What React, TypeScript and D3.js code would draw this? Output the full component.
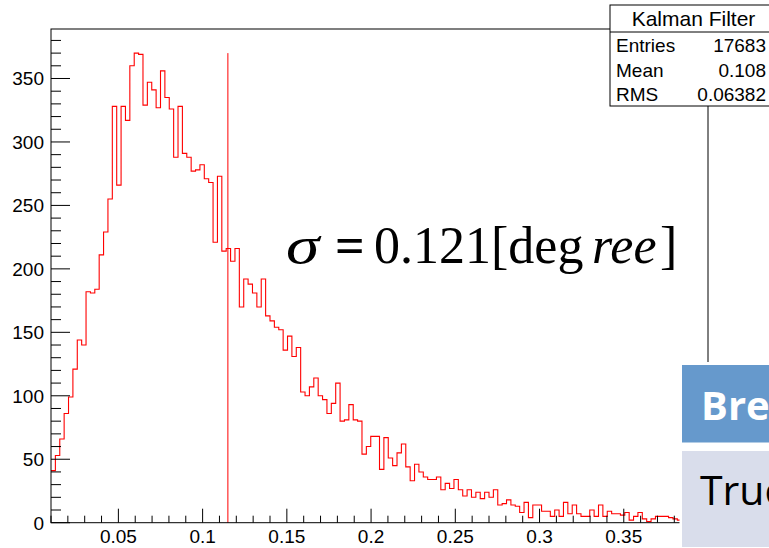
import React from 'react';
import * as d3 from 'd3';

// histogram "Kalman Filter": 150 bins from 0.01 to 0.4
const binRange = [0.01, 0.4];
const binCounts = [
  41, 53, 66, 86, 99, 121, 144, 140, 182, 181,
  184, 211, 229, 255, 328, 266, 328, 317, 360, 370,
  369, 329, 347, 341, 327, 356, 335, 326, 288, 328,
  291, 288, 277, 278, 282, 271, 268, 221, 273, 214,
  216, 206, 216, 170, 192, 188, 181, 170, 192, 163,
  159, 154, 152, 136, 147, 131, 138, 103, 100, 107,
  114, 100, 97, 86, 94, 110, 80, 81, 93, 81,
  80, 54, 60, 68, 68, 42, 67, 51, 45, 55,
  62, 44, 33, 46, 40, 36, 34, 34, 36, 26,
  31, 27, 34, 26, 21, 26, 20, 24, 19, 24,
  20, 26, 14, 15, 18, 14, 13, 8, 16, 4,
  14, 14, 9, 9, 5, 10, 5, 16, 7, 14,
  7, 5, 5, 10, 5, 14, 5, 9, 7, 7,
  6, 8, 2, 5, 8, 3, 1, 3, 5, 5,
  5, 4, 3, 2, 2, 1, 2, 1, 1, 1,
];
const markerX = 0.115;
const markerTop = 370;

const xTickLabels = ['0.05', '0.1', '0.15', '0.2', '0.25', '0.3', '0.35', '0.4'];
const yTickLabels = ['0', '50', '100', '150', '200', '250', '300', '350'];

const statsTitle = 'Kalman Filter';
const statsNames = ['Entries', 'Mean', 'RMS'];
const statsValues = ['17683', '0.108', '0.06382'];

const W = 769;
const H = 548;
const frame = { left: 51, right: 708, top: 29, bottom: 522.7 };
const helv = "'Liberation Sans', Arial, sans-serif";
const times = "'Liberation Serif', 'Times New Roman', serif";

export default function App() {
  const x = d3.scaleLinear().domain(binRange).range([frame.left, frame.right]);
  const y = d3.scaleLinear().domain([0, 389]).range([frame.bottom, frame.top]);

  const bw = (binRange[1] - binRange[0]) / binCounts.length;
  const pts: [number, number][] = binCounts.map((c, i) => [binRange[0] + i * bw, c]);
  pts.push([binRange[1], binCounts[binCounts.length - 1]]);
  const histPath = d3.line<[number, number]>()
    .x(d => x(d[0]))
    .y(d => y(d[1]))
    .curve(d3.curveStepAfter)(pts) || '';

  // ticks
  const yTicks = d3.range(0, 389, 10);
  const xTicks = d3.range(1, 41).map(v => v / 100);

  return (
    <svg width={W} height={H} style={{ position: 'absolute', left: 0, top: 0, background: '#fff' }}>
      <rect x={0} y={0} width={W} height={H} fill="#fff" />

      {/* histogram */}
      <path d={histPath} fill="none" stroke="#ff0000" strokeWidth={1.1} />
      <line x1={x(markerX)} x2={x(markerX)} y1={y(0)} y2={y(markerTop)} stroke="#ff0000" strokeWidth={1} />

      {/* frame */}
      <rect x={frame.left} y={frame.top} width={frame.right - frame.left} height={frame.bottom - frame.top}
        fill="none" stroke="#000" strokeWidth={1} />

      {/* y axis */}
      {yTicks.map(v => (
        <line key={'yt' + v} x1={frame.left} x2={frame.left + (v % 50 === 0 ? 19 : 10)}
          y1={y(v)} y2={y(v)} stroke="#000" strokeWidth={1} />
      ))}
      {yTickLabels.map(t => (
        <text key={'yl' + t} x={44} y={y(+t)} dy="0.36em" textAnchor="end"
          fontFamily={helv} fontSize={19}>{t}</text>
      ))}

      {/* x axis */}
      {xTicks.map(v => {
        const major = Math.round(v * 100) % 5 === 0;
        return (
          <line key={'xt' + v} x1={x(v)} x2={x(v)} y1={frame.bottom} y2={frame.bottom - (major ? 14 : 7)}
            stroke="#000" strokeWidth={1} />
        );
      })}
      {xTickLabels.map(t => (
        <text key={'xl' + t} x={x(+t)} y={543} textAnchor="middle" fontFamily={helv} fontSize={19}>{t}</text>
      ))}

      {/* sigma annotation */}
      <text transform="translate(286,263) scale(1.3,1)" fontFamily={times} fontSize={52} fontStyle="italic">σ</text>
      <text y={263} fontFamily={times} fontSize={52}>
        <tspan x={335} fontWeight={700}>=</tspan>
        <tspan x={374}>0.121[deg</tspan>
        <tspan x={592} fontStyle="italic">ree</tspan>
        <tspan x={660}>]</tspan>
      </text>

      {/* stats box */}
      <rect x={610} y={5} width={170} height={101} fill="#fff" stroke="#000" strokeWidth={1} />
      <line x1={610} x2={780} y1={32} y2={32} stroke="#000" strokeWidth={1} />
      <text x={693.5} y={26} textAnchor="middle" fontFamily={helv} fontSize={21}>{statsTitle}</text>
      {statsNames.map((n, i) => (
        <g key={n}>
          <text x={616} y={52 + i * 24.5} fontFamily={helv} fontSize={19}>{n}</text>
          <text x={766} y={52 + i * 24.5} textAnchor="end" fontFamily={helv} fontSize={19}>{statsValues[i]}</text>
        </g>
      ))}

      {/* slide boxes overlapping the chart */}
      <rect x={679.5} y={362} width={W - 679.5} height={H - 362} fill="#fff" />
      <rect x={682} y={365} width={W - 682} height={77.5} fill="#6699cc" />
      <text x={701} y={420} fontFamily="'Open Sans', sans-serif" fontWeight={700} fontSize={40} fill="#fff">Bre</text>
      <rect x={682} y={451} width={W - 682} height={96} fill="#d9ddeb" />
      <text x={700} y={505} fontFamily="'Open Sans', sans-serif" fontSize={41} fill="#000">Truc</text>
    </svg>
  );
}
